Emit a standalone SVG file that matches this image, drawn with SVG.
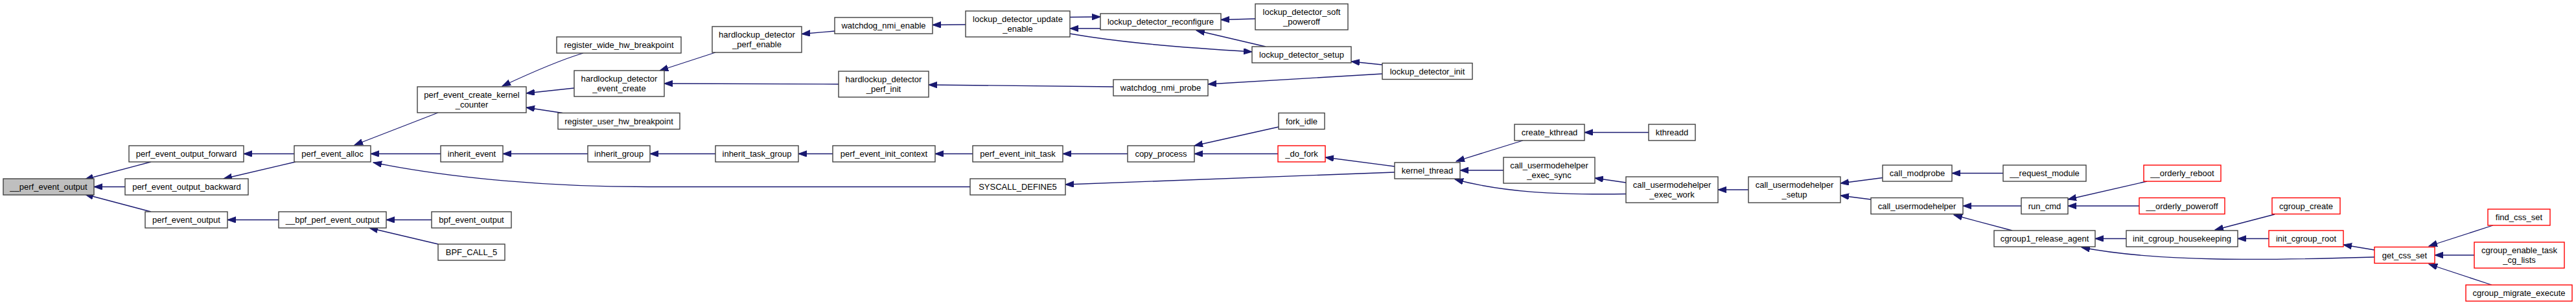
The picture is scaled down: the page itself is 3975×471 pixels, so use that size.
<svg xmlns="http://www.w3.org/2000/svg" width="3975" height="471" viewBox="0 0 3975 471">
<style>
.n rect{fill:#fff;stroke:#404040;stroke-width:1.4}
.n.root rect{fill:#bfbfbf}
.n.red rect{stroke:#ff0000}
.n text{font-family:"Liberation Sans",Arial,sans-serif;font-size:13px;text-anchor:middle;fill:#000}
#edges path{fill:none;stroke:#191970;stroke-width:1.3;marker-end:url(#ah)}
</style>
<defs>
<marker id="ah" markerUnits="userSpaceOnUse" markerWidth="14" markerHeight="10" refX="13" refY="4.7" orient="auto"><path d="M0,0 L13,4.7 L0,9.4 z" fill="#191970" stroke="#191970" stroke-width="1"/></marker>
</defs>
<rect width="3975" height="471" fill="#fff"/>
<g id="edges">
<path d="M233,250 L131,277"/>
<path d="M193,288.5 L145,288.5"/>
<path d="M233,327 L131,300"/>
<path d="M454,237.5 L376,237.5"/>
<path d="M456,250 L345,276"/>
<path d="M430,339.5 L351,339.5"/>
<path d="M676,174 L547,224"/>
<path d="M680,237.5 L572,237.5"/>
<path d="M1497,288.5 L1000,288.5 C850,288.5 700,276 576,251"/>
<path d="M666,339.5 L596,339.5"/>
<path d="M676,377 L570,352"/>
<path d="M900,82 C870,91 820,112 775,133"/>
<path d="M886,136 L812,144"/>
<path d="M868,174.5 L812,166"/>
<path d="M1104,81 L1018,109"/>
<path d="M1294,130 L1025,129"/>
<path d="M907,237.5 L776,237.5"/>
<path d="M1104,237.5 L1003,237.5"/>
<path d="M1285,237.5 L1232,237.5"/>
<path d="M1501,237.5 L1443,237.5"/>
<path d="M1740,237.5 L1640,237.5"/>
<path d="M1288,48 L1237,52.5"/>
<path d="M1490,38 L1439,38.5"/>
<path d="M1718,134 L1433,131"/>
<path d="M1698,44 L1651,44"/>
<path d="M1651,26.5 L1698,26"/>
<path d="M1937,29 L1884,30.5"/>
<path d="M1953,72 L1846,47"/>
<path d="M1651,52 C1720,64 1800,72 1932,80"/>
<path d="M2133,100 L2085,95"/>
<path d="M2133,114 L1864,130"/>
<path d="M1973,196 L1843,225"/>
<path d="M1972,237.5 L1843,237.5"/>
<path d="M2152,257 L2045,243"/>
<path d="M2152,266 L1644,285"/>
<path d="M2350,217 L2247,249"/>
<path d="M2320,263 L2253,263"/>
<path d="M2509,299.5 C2400,301 2320,297 2245,277"/>
<path d="M2509,282 L2461,275"/>
<path d="M2544,204.5 L2445,204.5"/>
<path d="M2698,293 L2651,293"/>
<path d="M2905,274.5 L2840,283"/>
<path d="M2887,308 L2840,302"/>
<path d="M3091,267.5 L3012,267.5"/>
<path d="M3119,318 L3029,318"/>
<path d="M3105,356 L3015,332"/>
<path d="M3313,280 L3191,308"/>
<path d="M3301,318 L3191,318"/>
<path d="M3281,368.5 L3233,368.5"/>
<path d="M3664,397 C3500,402 3330,405 3212,382"/>
<path d="M3510,331 L3418,355"/>
<path d="M3501,368.5 L3453,368.5"/>
<path d="M3664,386 L3616,378"/>
<path d="M3847,348 L3748,380"/>
<path d="M3818,394 L3757,394"/>
<path d="M3845,440 L3748,408"/>
</g>
<g id="n0" class="n root"><rect x="5" y="276" width="140" height="25"/><text x="75" y="293">__perf_event_output</text></g>
<g id="n1" class="n"><rect x="199" y="225" width="177" height="25"/><text x="287.5" y="242">perf_event_output_forward</text></g>
<g id="n2" class="n"><rect x="193" y="276" width="190" height="25"/><text x="288" y="293">perf_event_output_backward</text></g>
<g id="n3" class="n"><rect x="224" y="327" width="127" height="25"/><text x="287.5" y="344">perf_event_output</text></g>
<g id="n4" class="n"><rect x="454" y="225" width="118" height="25"/><text x="513" y="242">perf_event_alloc</text></g>
<g id="n5" class="n"><rect x="430" y="327" width="166" height="25"/><text x="513" y="344">__bpf_perf_event_output</text></g>
<g id="n6" class="n"><rect x="644" y="134" width="168" height="40"/><text x="728" y="151">perf_event_create_kernel</text><text x="728" y="166">_counter</text></g>
<g id="n7" class="n"><rect x="680" y="225" width="96" height="25"/><text x="728" y="242">inherit_event</text></g>
<g id="n8" class="n"><rect x="666" y="327" width="123" height="25"/><text x="727.5" y="344">bpf_event_output</text></g>
<g id="n9" class="n"><rect x="676" y="377" width="103" height="25"/><text x="727.5" y="394">BPF_CALL_5</text></g>
<g id="n10" class="n"><rect x="859" y="57" width="192" height="25"/><text x="955" y="74">register_wide_hw_breakpoint</text></g>
<g id="n11" class="n"><rect x="886" y="109" width="139" height="40"/><text x="955.5" y="126">hardlockup_detector</text><text x="955.5" y="141">_event_create</text></g>
<g id="n12" class="n"><rect x="861" y="174.5" width="188" height="25"/><text x="955" y="191.5">register_user_hw_breakpoint</text></g>
<g id="n13" class="n"><rect x="907" y="225" width="96" height="25"/><text x="955" y="242">inherit_group</text></g>
<g id="n14" class="n"><rect x="1099" y="41" width="138" height="40"/><text x="1168" y="58">hardlockup_detector</text><text x="1168" y="73">_perf_enable</text></g>
<g id="n15" class="n"><rect x="1294" y="110" width="139" height="40"/><text x="1363.5" y="127">hardlockup_detector</text><text x="1363.5" y="142">_perf_init</text></g>
<g id="n16" class="n"><rect x="1104" y="225" width="128" height="25"/><text x="1168" y="242">inherit_task_group</text></g>
<g id="n17" class="n"><rect x="1285" y="225" width="158" height="25"/><text x="1364" y="242">perf_event_init_context</text></g>
<g id="n18" class="n"><rect x="1288" y="27" width="151" height="25"/><text x="1363.5" y="44">watchdog_nmi_enable</text></g>
<g id="n19" class="n"><rect x="1490" y="17" width="161" height="40"/><text x="1570.5" y="34">lockup_detector_update</text><text x="1570.5" y="49">_enable</text></g>
<g id="n20" class="n"><rect x="1501" y="225" width="139" height="25"/><text x="1570.5" y="242">perf_event_init_task</text></g>
<g id="n21" class="n"><rect x="1497" y="276" width="147" height="25"/><text x="1570.5" y="293">SYSCALL_DEFINE5</text></g>
<g id="n22" class="n"><rect x="1698" y="21" width="186" height="25"/><text x="1791" y="38">lockup_detector_reconfigure</text></g>
<g id="n23" class="n"><rect x="1718" y="123" width="146" height="25"/><text x="1791" y="140">watchdog_nmi_probe</text></g>
<g id="n24" class="n"><rect x="1740" y="225" width="103" height="25"/><text x="1791.5" y="242">copy_process</text></g>
<g id="n25" class="n"><rect x="1937" y="6" width="143" height="40"/><text x="2008.5" y="23">lockup_detector_soft</text><text x="2008.5" y="38">_poweroff</text></g>
<g id="n26" class="n"><rect x="1932" y="72" width="153" height="25"/><text x="2008.5" y="89">lockup_detector_setup</text></g>
<g id="n27" class="n"><rect x="1973" y="174.5" width="71" height="25"/><text x="2008.5" y="191.5">fork_idle</text></g>
<g id="n28" class="n red"><rect x="1972" y="225" width="73" height="25"/><text x="2008.5" y="242">_do_fork</text></g>
<g id="n29" class="n"><rect x="2133" y="97.5" width="139" height="25"/><text x="2202.5" y="114.5">lockup_detector_init</text></g>
<g id="n30" class="n"><rect x="2152" y="251" width="101" height="25"/><text x="2202.5" y="268">kernel_thread</text></g>
<g id="n31" class="n"><rect x="2337" y="192" width="108" height="25"/><text x="2391" y="209">create_kthread</text></g>
<g id="n32" class="n"><rect x="2320" y="243" width="141" height="40"/><text x="2390.5" y="260">call_usermodehelper</text><text x="2390.5" y="275">_exec_sync</text></g>
<g id="n33" class="n"><rect x="2544" y="192" width="72" height="25"/><text x="2580" y="209">kthreadd</text></g>
<g id="n34" class="n"><rect x="2509" y="273" width="142" height="40"/><text x="2580" y="290">call_usermodehelper</text><text x="2580" y="305">_exec_work</text></g>
<g id="n35" class="n"><rect x="2698" y="273" width="142" height="40"/><text x="2769" y="290">call_usermodehelper</text><text x="2769" y="305">_setup</text></g>
<g id="n36" class="n"><rect x="2905" y="255" width="107" height="25"/><text x="2958.5" y="272">call_modprobe</text></g>
<g id="n37" class="n"><rect x="2887" y="305.5" width="142" height="25"/><text x="2958" y="322.5">call_usermodehelper</text></g>
<g id="n38" class="n"><rect x="3091" y="255" width="128" height="25"/><text x="3155" y="272">__request_module</text></g>
<g id="n39" class="n"><rect x="3119" y="305.5" width="72" height="25"/><text x="3155" y="322.5">run_cmd</text></g>
<g id="n40" class="n"><rect x="3077" y="356" width="156" height="25"/><text x="3155" y="373">cgroup1_release_agent</text></g>
<g id="n41" class="n red"><rect x="3308" y="255" width="119" height="25"/><text x="3367.5" y="272">__orderly_reboot</text></g>
<g id="n42" class="n red"><rect x="3301" y="305.5" width="132" height="25"/><text x="3367" y="322.5">__orderly_poweroff</text></g>
<g id="n43" class="n"><rect x="3281" y="356" width="172" height="25"/><text x="3367" y="373">init_cgroup_housekeeping</text></g>
<g id="n44" class="n red"><rect x="3506" y="305.5" width="105" height="25"/><text x="3558.5" y="322.5">cgroup_create</text></g>
<g id="n45" class="n red"><rect x="3501" y="356" width="115" height="25"/><text x="3558.5" y="373">init_cgroup_root</text></g>
<g id="n46" class="n red"><rect x="3664" y="381.5" width="93" height="25"/><text x="3710.5" y="398.5">get_css_set</text></g>
<g id="n47" class="n red"><rect x="3839" y="323" width="96" height="25"/><text x="3887" y="340">find_css_set</text></g>
<g id="n48" class="n red"><rect x="3818" y="374" width="139" height="40"/><text x="3887.5" y="391">cgroup_enable_task</text><text x="3887.5" y="406">_cg_lists</text></g>
<g id="n49" class="n red"><rect x="3805" y="440" width="164" height="25"/><text x="3887" y="457">cgroup_migrate_execute</text></g>
</svg>
